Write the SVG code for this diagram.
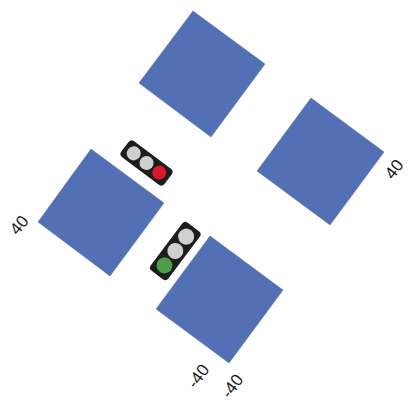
<svg xmlns="http://www.w3.org/2000/svg" width="408" height="401" viewBox="0 0 408 401">
<style>
.b{fill:#5470b5;stroke:#4f6bb0;stroke-width:.5}
.h{fill:#1d1d1d}
.o{fill:#cfcfcf}
text{font-family:"Liberation Sans",Arial,sans-serif;font-size:17px;fill:#1a1a1a;text-anchor:middle}
</style>
<rect width="408" height="401" fill="#fff"/>
<g id="block-top"><polygon class="b" points="193,11 265,64 211,137 139,83"/></g>
<g id="block-right"><polygon class="b" points="311,98 384,152 330,225 257,171"/></g>
<g id="block-left"><polygon class="b" points="91,149 164,203 110,276 38,222"/></g>
<g id="block-bottom"><polygon class="b" points="210,236 283,290 229,363 156,309"/></g>
<g id="signal-red" transform="translate(146.500 163) rotate(37)">
<rect class="h" x="-27" y="-10" width="54" height="20" rx="4"/>
<circle class="o" cx="-16" cy="0" r="7"/><circle class="o" cx="0" cy="0" r="7"/><circle cx="16" cy="0" r="7" fill="#d8192c"/>
</g>
<g id="signal-green" transform="translate(175.300 251) rotate(-53)">
<rect class="h" x="-30" y="-11" width="60" height="22" rx="4"/>
<circle class="o" cx="18" cy="0" r="8"/><circle class="o" cx="0" cy="0" r="8"/><circle cx="-18" cy="0" r="8" fill="#4c9e4a"/>
</g>
<g id="labels">
<text transform="translate(19 225) rotate(-50)" y="6">40</text>
<text transform="translate(394 169) rotate(-53)" y="6">40</text>
<text transform="translate(198 376) rotate(-53)" y="6">-40</text>
<text transform="translate(232 386) rotate(-53)" y="6">-40</text>
</g>
</svg>
